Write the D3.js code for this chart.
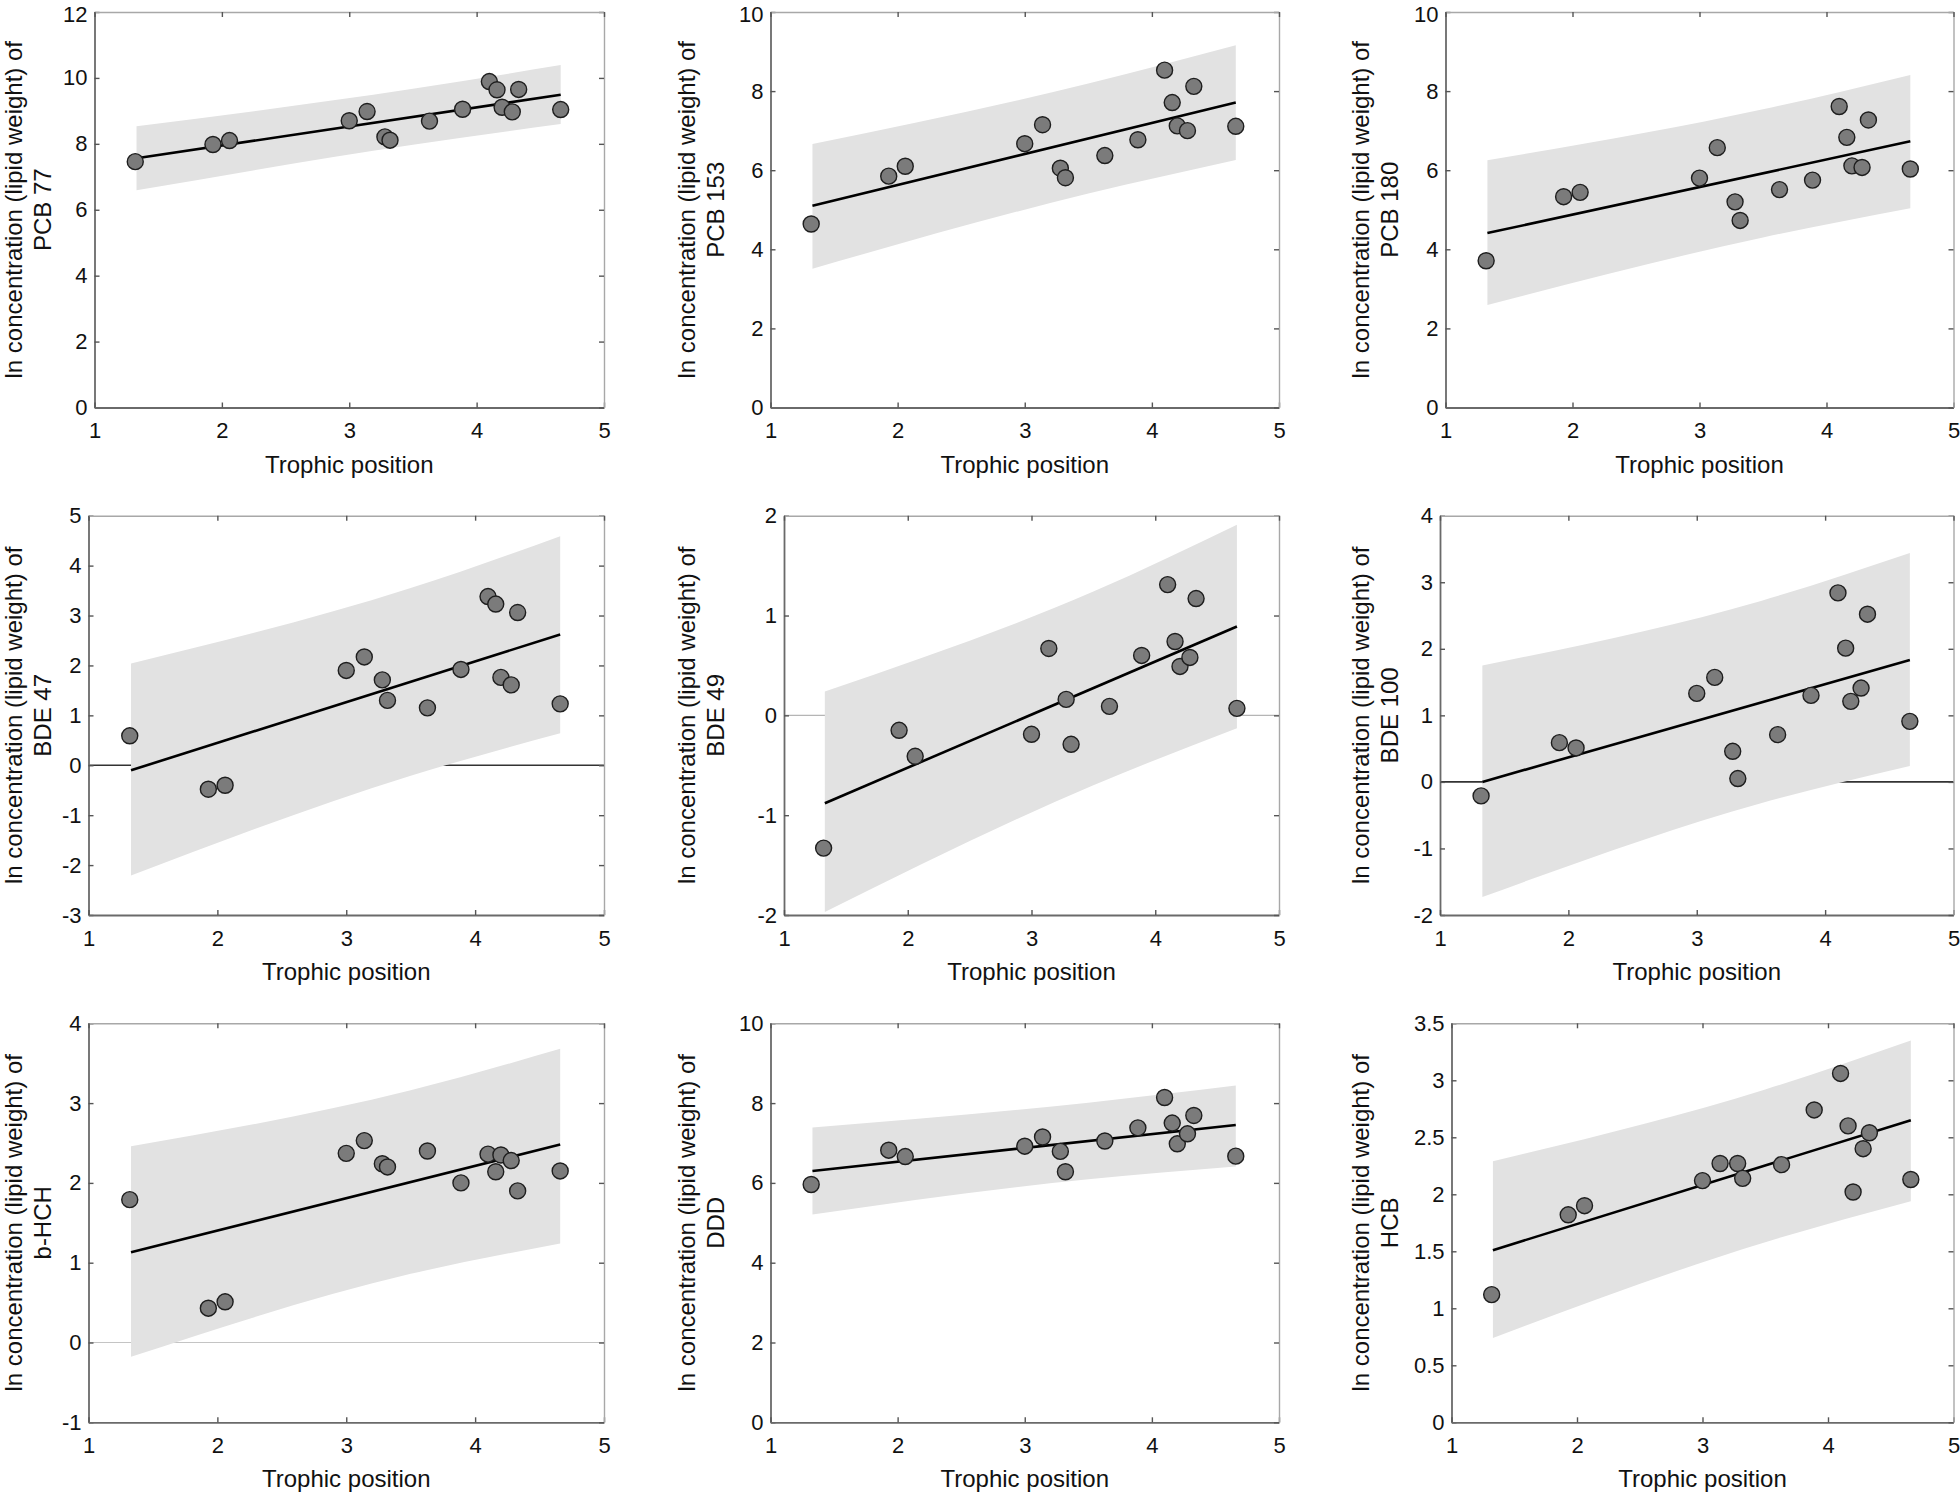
<!DOCTYPE html>
<html>
<head>
<meta charset="utf-8">
<script src="https://cdn.jsdelivr.net/npm/d3@7"></script>
<style>
  html, body { margin: 0; padding: 0; background: #fff; }
  svg { display: block; }
  text { font-family: "Liberation Sans", Arial, Helvetica, sans-serif; fill: #111; }
</style>
</head>
<body>
<svg id="chart" width="1960" height="1496"></svg>
<script>
// ---------------- DATA ----------------
const trophicPosition = [1.32, 1.93, 2.06, 3.00, 3.14, 3.28, 3.32, 3.63, 3.89, 4.10, 4.16, 4.20, 4.28, 4.33, 4.66];
const xTicks = [1, 2, 3, 4, 5];
const compounds = ["PCB 77", "PCB 153", "PCB 180", "BDE 47", "BDE 49", "BDE 100", "b-HCH", "DDD", "HCB"];

const yPCB77  = [7.46, 7.98, 8.10, 8.70, 8.98, 8.21, 8.11, 8.69, 9.05, 9.89, 9.64, 9.11, 8.97, 9.65, 9.04];
const yPCB153 = [4.64, 5.85, 6.10, 6.67, 7.15, 6.05, 5.81, 6.37, 6.77, 8.53, 7.71, 7.12, 7.00, 8.12, 7.11];
const yPCB180 = [3.71, 5.33, 5.44, 5.80, 6.57, 5.20, 4.73, 5.51, 5.75, 7.61, 6.83, 6.11, 6.07, 7.27, 6.03];
const yBDE47  = [0.59, -0.48, -0.40, 1.90, 2.17, 1.71, 1.30, 1.15, 1.92, 3.38, 3.23, 1.76, 1.61, 3.06, 1.23];
const yBDE49  = [-1.33, -0.15, -0.41, -0.19, 0.67, 0.16, -0.29, 0.09, 0.60, 1.31, 0.74, 0.49, 0.58, 1.17, 0.07];
const yBDE100 = [-0.21, 0.59, 0.51, 1.33, 1.57, 0.46, 0.05, 0.71, 1.30, 2.84, 2.01, 1.21, 1.41, 2.52, 0.91];
const yBHCH   = [1.79, 0.43, 0.51, 2.37, 2.53, 2.24, 2.20, 2.40, 2.00, 2.36, 2.14, 2.35, 2.28, 1.90, 2.15];
const yDDD    = [5.96, 6.82, 6.66, 6.92, 7.15, 6.79, 6.28, 7.05, 7.38, 8.14, 7.50, 6.98, 7.23, 7.69, 6.67];
const yHCB    = [1.12, 1.82, 1.90, 2.12, 2.27, 2.27, 2.14, 2.26, 2.74, 3.06, 2.60, 2.02, 2.40, 2.54, 2.13];

// regression line end values at fitX
const fitX = [1.33, 4.66];
const fitPCB77  = [7.56, 9.49];
const fitPCB153 = [5.10, 7.71];
const fitPCB180 = [4.41, 6.73];
const fitBDE47  = [-0.10, 2.62];
const fitBDE49  = [-0.88, 0.89];
const fitBDE100 = [0.00, 1.83];
const fitBHCH   = [1.13, 2.48];
const fitDDD    = [6.30, 7.45];
const fitHCB    = [1.51, 2.65];

// prediction band (lower / upper) at bandX
const bandX = [1.33, 3.5, 4.66];
const loPCB77  = [6.59, 7.97, 8.60],  hiPCB77  = [8.53, 9.67, 10.39];
const loPCB153 = [3.51, 5.41, 6.26],  hiPCB153 = [6.66, 8.19, 9.16];
const loPCB180 = [2.59, 4.30, 5.04],  hiPCB180 = [6.25, 7.54, 8.41];
const loBDE47  = [-2.21, -0.21, 0.64], hiBDE47 = [2.04, 3.55, 4.59];
const loBDE49  = [-1.97, -0.70, -0.13], hiBDE49 = [0.24, 1.24, 1.91];
const loBDE100 = [-1.73, -0.32, 0.24], hiBDE100 = [1.75, 2.72, 3.44];
const loBHCH   = [-0.18, 0.86, 1.24],  hiBHCH   = [2.46, 3.16, 3.68];
const loDDD    = [5.21, 6.09, 6.41],   hiDDD    = [7.39, 8.01, 8.44];
const loHCB    = [0.74, 1.58, 1.94],   hiHCB    = [2.29, 2.92, 3.35];

// y tick values per panel
const yTicksPCB77  = [0, 2, 4, 6, 8, 10, 12];
const yTicksPCB153 = [0, 2, 4, 6, 8, 10];
const yTicksPCB180 = [0, 2, 4, 6, 8, 10];
const yTicksBDE47  = [-3, -2, -1, 0, 1, 2, 3, 4, 5];
const yTicksBDE49  = [-2, -1, 0, 1, 2];
const yTicksBDE100 = [-2, -1, 0, 1, 2, 3, 4];
const yTicksBHCH   = [-1, 0, 1, 2, 3, 4];
const yTicksDDD    = [0, 2, 4, 6, 8, 10];
const yTicksHCB    = [0, 0.5, 1, 1.5, 2, 2.5, 3, 3.5];

const xLabel = "Trophic position";
const yLabelPrefix = "ln concentration (lipid weight) of";

// ---------------- LAYOUT / STYLE ----------------
const panels = [
  {name: compounds[0], y: yPCB77,  fit: fitPCB77,  lo: loPCB77,  hi: hiPCB77,  ticks: yTicksPCB77,  zero: null},
  {name: compounds[1], y: yPCB153, fit: fitPCB153, lo: loPCB153, hi: hiPCB153, ticks: yTicksPCB153, zero: null},
  {name: compounds[2], y: yPCB180, fit: fitPCB180, lo: loPCB180, hi: hiPCB180, ticks: yTicksPCB180, zero: null},
  {name: compounds[3], y: yBDE47,  fit: fitBDE47,  lo: loBDE47,  hi: hiBDE47,  ticks: yTicksBDE47,  zero: "#333"},
  {name: compounds[4], y: yBDE49,  fit: fitBDE49,  lo: loBDE49,  hi: hiBDE49,  ticks: yTicksBDE49,  zero: "#b5b5b5"},
  {name: compounds[5], y: yBDE100, fit: fitBDE100, lo: loBDE100, hi: hiBDE100, ticks: yTicksBDE100, zero: "#333"},
  {name: compounds[6], y: yBHCH,   fit: fitBHCH,   lo: loBHCH,   hi: hiBHCH,   ticks: yTicksBHCH,   zero: "#c4c4c4"},
  {name: compounds[7], y: yDDD,    fit: fitDDD,    lo: loDDD,    hi: hiDDD,    ticks: yTicksDDD,    zero: null},
  {name: compounds[8], y: yHCB,    fit: fitHCB,    lo: loHCB,    hi: hiHCB,    ticks: yTicksHCB,    zero: null}
];
const frames = [
  {L: 94.5,  R: 604,    T: 12,     B: 407.5},
  {L: 770.5, R: 1279,   T: 12,     B: 407.5},
  {L: 1445.5,R: 1953.5, T: 12,     B: 407.5},
  {L: 88.5,  R: 604,    T: 515.7,  B: 915},
  {L: 784,   R: 1279,   T: 515.7,  B: 915},
  {L: 1440,  R: 1953.5, T: 515.7,  B: 915},
  {L: 88.5,  R: 604,    T: 1023.3, B: 1422.3},
  {L: 770.5, R: 1279,   T: 1023.3, B: 1422.3},
  {L: 1451.5,R: 1953.5, T: 1023.3, B: 1422.3}
];
const yLabelX = [22, 695, 1369];   // baseline x of first label line per column

const svg = d3.select("#chart");
const fmt = d => String(d);

panels.forEach((p, i) => {
  const f = frames[i];
  const col = i % 3;
  const x = d3.scaleLinear().domain([xTicks[0], xTicks[xTicks.length - 1]]).range([f.L, f.R]);
  const y = d3.scaleLinear().domain([p.ticks[0], p.ticks[p.ticks.length - 1]]).range([f.B, f.T]);
  const g = svg.append("g");

  // zero reference line (under band)
  if (p.zero) {
    g.append("line")
      .attr("x1", x(1)).attr("x2", x(5))
      .attr("y1", y(0)).attr("y2", y(0))
      .attr("stroke", p.zero).attr("stroke-width", p.zero === "#333" ? 1.6 : 1.2);
  }

  // prediction band
  const bandData = bandX.map((bx, k) => [bx, p.lo[k], p.hi[k]]);
  g.append("path")
    .datum(bandData)
    .attr("d", d3.area().x(d => x(d[0])).y0(d => y(d[1])).y1(d => y(d[2])).curve(d3.curveMonotoneX))
    .attr("fill", "#e2e2e2");

  // regression line
  g.append("path")
    .datum(fitX.map((fx, k) => [fx, p.fit[k]]))
    .attr("d", d3.line().x(d => x(d[0])).y(d => y(d[1])))
    .attr("stroke", "#000").attr("stroke-width", 2.6).attr("fill", "none");

  // points
  g.selectAll("circle.pt")
    .data(trophicPosition.map((tx, k) => [tx, p.y[k]]))
    .join("circle")
    .attr("class", "pt")
    .attr("cx", d => x(d[0])).attr("cy", d => y(d[1]))
    .attr("r", 8)
    .attr("fill", "#7b7b7b").attr("stroke", "#1e1e1e").attr("stroke-width", 1.4);

  // axes
  const left = g.append("g").attr("transform", `translate(${f.L},0)`)
    .call(d3.axisLeft(y).tickValues(p.ticks).tickFormat(fmt).tickSizeInner(-5).tickSizeOuter(0).tickPadding(7));
  const bottom = g.append("g").attr("transform", `translate(0,${f.B})`)
    .call(d3.axisBottom(x).tickValues(xTicks).tickFormat(fmt).tickSizeInner(-5).tickSizeOuter(0).tickPadding(15));
  const right = g.append("g").attr("transform", `translate(${f.R},0)`)
    .call(d3.axisRight(y).tickValues(p.ticks).tickFormat("").tickSizeInner(-5).tickSizeOuter(0));
  const top = g.append("g").attr("transform", `translate(0,${f.T})`)
    .call(d3.axisTop(x).tickValues(xTicks).tickFormat("").tickSizeInner(-5).tickSizeOuter(0));

  [left, bottom].forEach(a => {
    a.select(".domain").attr("stroke", "#6a6a6a").attr("stroke-width", 1.8);
    a.selectAll(".tick line").attr("stroke", "#555").attr("stroke-width", 1.4);
    a.selectAll(".tick text").attr("font-size", 22).attr("fill", "#111")
      .style("font-family", "'Liberation Sans', Arial, sans-serif");
  });
  // keep the topmost label of the first row inside the canvas
  if (f.T < 20) {
    left.selectAll(".tick text").filter(d => d === p.ticks[p.ticks.length - 1]).attr("y", 2);
  }
  [right, top].forEach(a => {
    a.select(".domain").attr("stroke", "#a8a8a8").attr("stroke-width", 1.4);
    a.selectAll(".tick line").attr("stroke", "#555").attr("stroke-width", 1.4);
  });

  // x label
  g.append("text")
    .attr("x", (f.L + f.R) / 2).attr("y", f.B + 65)
    .attr("text-anchor", "middle").attr("font-size", 24)
    .text(xLabel);

  // y label (two lines, rotated)
  const cy = (f.T + f.B) / 2;
  const yl = g.append("text")
    .attr("transform", `translate(${yLabelX[col]},${cy}) rotate(-90)`)
    .attr("text-anchor", "middle").attr("font-size", 24);
  yl.append("tspan").attr("x", 0).attr("dy", 0).text(yLabelPrefix);
  yl.append("tspan").attr("x", 0).attr("dy", 29).text(p.name);
});
</script>
</body>
</html>
